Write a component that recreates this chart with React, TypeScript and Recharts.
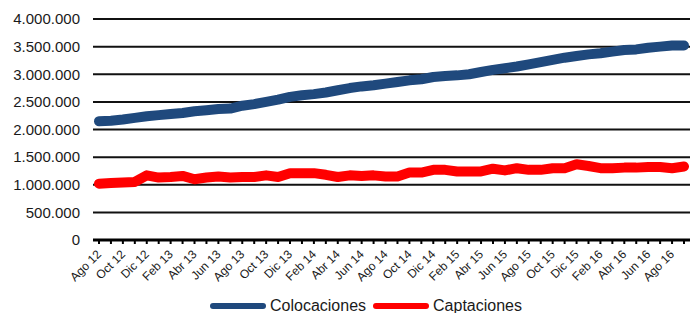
import { LineChart, Line, XAxis, YAxis, CartesianGrid, Legend } from "recharts";

const meses = [
  "Ago 12", "Sep 12", "Oct 12", "Nov 12", "Dic 12",
  "Ene 13", "Feb 13", "Mar 13", "Abr 13", "May 13", "Jun 13", "Jul 13", "Ago 13", "Sep 13", "Oct 13", "Nov 13", "Dic 13",
  "Ene 14", "Feb 14", "Mar 14", "Abr 14", "May 14", "Jun 14", "Jul 14", "Ago 14", "Sep 14", "Oct 14", "Nov 14", "Dic 14",
  "Ene 15", "Feb 15", "Mar 15", "Abr 15", "May 15", "Jun 15", "Jul 15", "Ago 15", "Sep 15", "Oct 15", "Nov 15", "Dic 15",
  "Ene 16", "Feb 16", "Mar 16", "Abr 16", "May 16", "Jun 16", "Jul 16", "Ago 16", "Sep 16"
];

// millones
const colocaciones = [
  2.15, 2.16, 2.18, 2.21, 2.24,
  2.26, 2.28, 2.30, 2.33, 2.35, 2.37, 2.38, 2.43, 2.46, 2.50, 2.54, 2.59,
  2.62, 2.64, 2.67, 2.71, 2.75, 2.78, 2.80, 2.83, 2.86, 2.89, 2.91, 2.95,
  2.97, 2.98, 3.00, 3.04, 3.08, 3.11, 3.14, 3.18, 3.22, 3.26, 3.30, 3.33,
  3.36, 3.38, 3.41, 3.44, 3.45, 3.48, 3.50, 3.52, 3.52
];

const captaciones = [
  1.02, 1.03, 1.04, 1.05, 1.17,
  1.13, 1.14, 1.16, 1.10, 1.13, 1.15, 1.13, 1.14, 1.14, 1.17, 1.14, 1.21,
  1.21, 1.21, 1.18, 1.14, 1.17, 1.16, 1.17, 1.15, 1.15, 1.22, 1.22, 1.27,
  1.27, 1.24, 1.24, 1.24, 1.29, 1.26, 1.30, 1.27, 1.27, 1.30, 1.30, 1.37,
  1.34, 1.30, 1.30, 1.31, 1.31, 1.32, 1.32, 1.30, 1.33
];

const yTicks = [0, 500000, 1000000, 1500000, 2000000, 2500000, 3000000, 3500000, 4000000];

const data = meses.map((mes, i) => ({
  mes,
  colocaciones: Math.round(colocaciones[i] * 1000000),
  captaciones: Math.round(captaciones[i] * 1000000)
}));

const FONT = "'Liberation Sans', Arial, sans-serif";

const miles = (v: number) => String(v).replace(/\B(?=(\d{3})+(?!\d))/g, ".");

function MesTick(props: any) {
  const { x, y, payload, index } = props;
  if (index % 2 !== 0) return <g />;
  const tx = x + 3;
  const ty = y + 9;
  return (
    <text
      x={tx}
      y={ty}
      textAnchor="end"
      transform={`rotate(-45 ${tx} ${ty})`}
      fontSize={12}
      fontFamily={FONT}
      fill="#1a1a1a"
    >
      {payload.value}
    </text>
  );
}

function Leyenda() {
  const items = [
    { label: "Colocaciones", color: "#1F497D" },
    { label: "Captaciones", color: "#FF0000" }
  ];
  return (
    <div style={{ display: "flex", height: 20, alignItems: "center", paddingLeft: 210, position: "relative", top: 3, fontFamily: FONT, fontSize: 16, color: "#1a1a1a" }}>
      {items.map(it => (
        <div key={it.label} style={{ display: "flex", alignItems: "center", marginRight: 7 }}>
          <div style={{ width: 56, height: 6, borderRadius: 3, background: it.color, marginRight: 4 }} />
          <span>{it.label}</span>
        </div>
      ))}
    </div>
  );
}

export default function App() {
  return (
    <div style={{ position: "absolute", left: 0, top: 0, background: "#fff" }}>
      <LineChart width={691} height={313} data={data} margin={{ top: 19, right: 1, left: 0, bottom: 0 }}>
        <CartesianGrid vertical={false} stroke="#111" strokeWidth={2} />
        <XAxis
          dataKey="mes"
          interval={0}
          tick={<MesTick />}
          height={53}
          padding={{ left: 6, right: 6 }}
          axisLine={{ stroke: "#000", strokeWidth: 3 }}
          tickLine={{ stroke: "#000", strokeWidth: 2 }}
          tickSize={4}
          tickMargin={2}
        />
        <YAxis
          width={93}
          domain={[0, 4000000]}
          ticks={yTicks}
          tickFormatter={miles}
          axisLine={false}
          tickLine={false}
          tickSize={6}
          tickMargin={7}
          tick={{ fontSize: 15, fontFamily: FONT, fill: "#1a1a1a" }}
        />
        <Legend verticalAlign="bottom" content={<Leyenda />} />
        <Line
          type="linear"
          dataKey="colocaciones"
          stroke="#1F497D"
          strokeWidth={10}
          strokeLinecap="round"
          strokeLinejoin="round"
          dot={false}
          isAnimationActive={false}
        />
        <Line
          type="linear"
          dataKey="captaciones"
          stroke="#FF0000"
          strokeWidth={10}
          strokeLinecap="round"
          strokeLinejoin="round"
          dot={false}
          isAnimationActive={false}
        />
      </LineChart>
    </div>
  );
}
